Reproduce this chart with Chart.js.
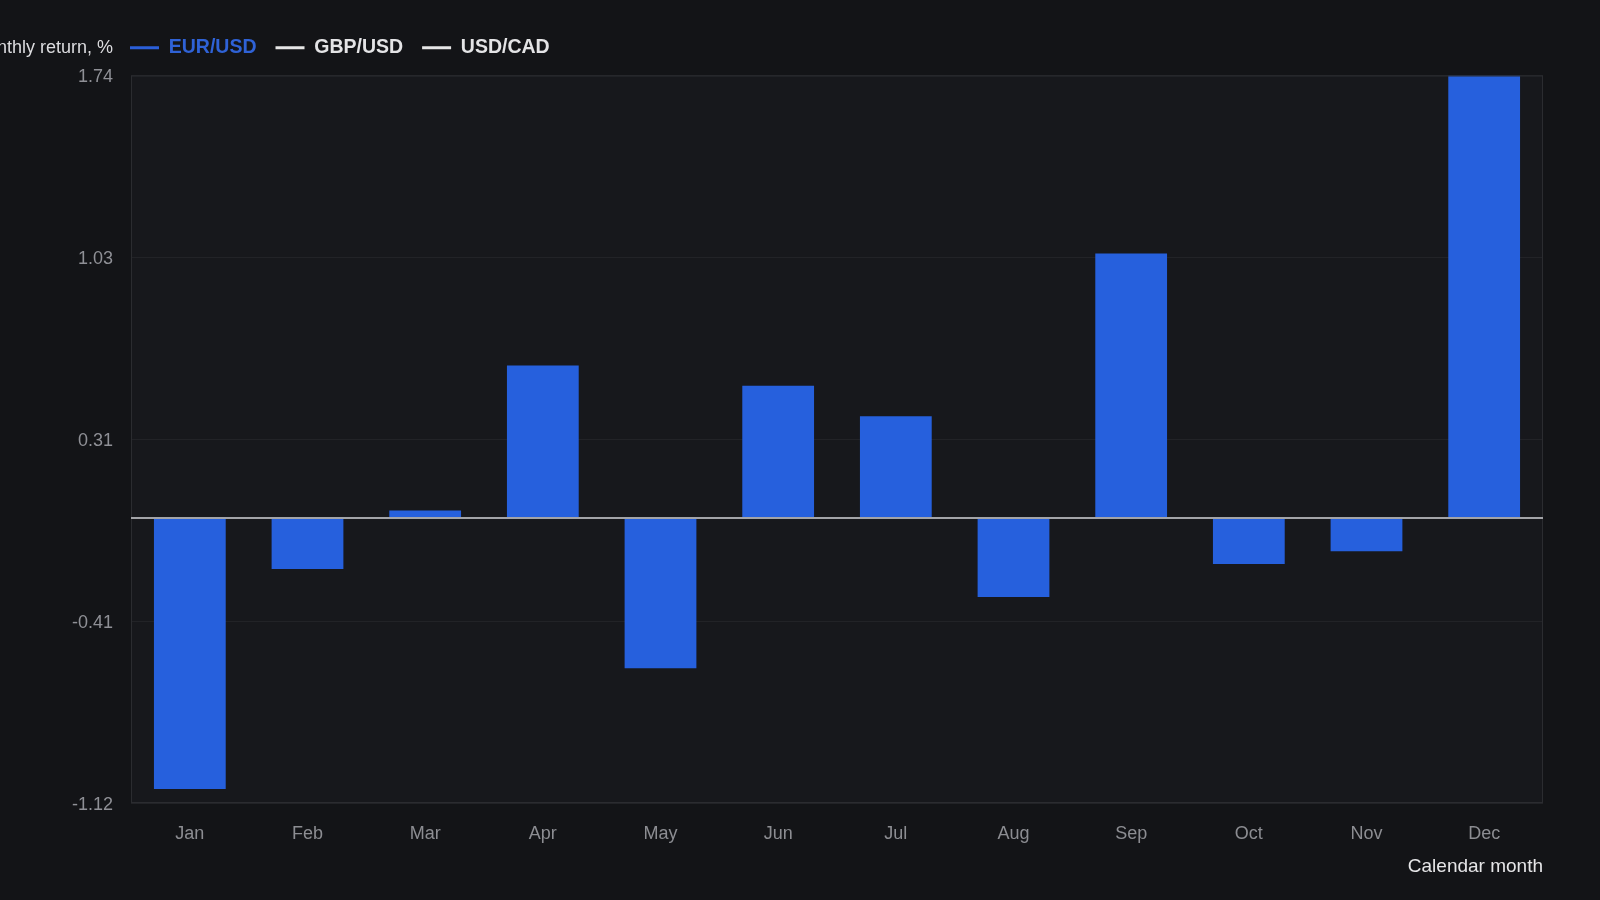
<!DOCTYPE html>
<html>
<head>
<meta charset="utf-8">
<script src="https://cdn.jsdelivr.net/npm/chart.js@4"></script>
<style>
  html, body { margin: 0; padding: 0; background: #131417; }
  #wrap { width: 1600px; height: 900px; }
</style>
</head>
<body>
<div id="wrap"><canvas id="returnsChart"></canvas></div>
<script>
// Average monthly return by calendar month
const months = ['Jan', 'Feb', 'Mar', 'Apr', 'May', 'Jun', 'Jul', 'Aug', 'Sep', 'Oct', 'Nov', 'Dec'];
const eurUsd = [-1.065, -0.20, 0.03, 0.60, -0.59, 0.52, 0.40, -0.31, 1.04, -0.18, -0.13, 1.74];
const gbpUsd = [];
const usdCad = [];
const yTickLabels = ['-1.12', '-0.41', '0.31', '1.03', '1.74'];
const yMin = -1.12, yMax = 1.74;

const FONT = '"Liberation Sans", Arial, sans-serif';

// plot background, border, zero line and the y title next to the legend
const plotDecor = {
    id: 'plotDecor',
    afterLayout(chart) {
        // legend sits flush with the plot's left edge, a bit above its default row
        chart.legend.left -= 20;
        chart.legend.top -= 8;
    },
    beforeDraw(chart) {
        const { ctx, chartArea: a } = chart;
        ctx.save();
        ctx.fillStyle = '#17181c';
        ctx.fillRect(a.left, a.top, a.right - a.left, a.bottom - a.top);
        ctx.restore();
    },
    afterDatasetsDraw(chart) {
        const { ctx, chartArea: a, scales } = chart;
        const y0 = scales.y.getPixelForValue(0);
        ctx.save();
        ctx.strokeStyle = '#2b2c30';
        ctx.lineWidth = 1;
        ctx.strokeRect(a.left + 0.5, a.top + 0.5, a.right - a.left - 1, a.bottom - a.top - 1);
        ctx.strokeStyle = '#a3a4a8';
        ctx.lineWidth = 2;
        ctx.beginPath();
        ctx.moveTo(a.left, y0);
        ctx.lineTo(a.right, y0);
        ctx.stroke();
        ctx.restore();
    },
    afterDraw(chart) {
        const { ctx, legend, chartArea: a } = chart;
        const cy = legend.top + 29;
        ctx.save();
        ctx.font = '18px ' + FONT;
        ctx.fillStyle = '#dcdcdf';
        ctx.textAlign = 'right';
        ctx.textBaseline = 'middle';
        ctx.fillText('Monthly return, %', a.left - 18, cy);
        ctx.restore();
    }
};

new Chart(document.getElementById('returnsChart'), {
    type: 'bar',
    data: {
        labels: months,
        datasets: [
            { label: 'EUR/USD', data: eurUsd, backgroundColor: '#2660dd', borderWidth: 0,
              barPercentage: 0.61, categoryPercentage: 1.0 },
            { label: 'GBP/USD', data: gbpUsd, backgroundColor: '#e6e6e6', hidden: true },
            { label: 'USD/CAD', data: usdCad, backgroundColor: '#e6e6e6', hidden: true }
        ]
    },
    options: {
        responsive: true,
        maintainAspectRatio: false,
        animation: false,
        layout: { padding: { top: 27, right: 57, bottom: 0, left: 0 } },
        plugins: {
            legend: {
                display: true,
                position: 'top',
                align: 'start',
                fullSize: false,
                labels: {
                    usePointStyle: true,
                    pointStyle: 'line',
                    pointStyleWidth: 29,
                    boxHeight: 20,
                    padding: 19,
                    font: { family: FONT, size: 19.5, weight: 'bold' },
                    generateLabels(chart) {
                        const colors = ['#2b5fd9', '#e6e6e6', '#e6e6e6'];
                        const textColors = ['#2f62d6', '#e4e4e6', '#e4e4e6'];
                        return chart.data.datasets.map((ds, i) => ({
                            text: ds.label,
                            datasetIndex: i,
                            hidden: false,
                            pointStyle: 'line',
                            strokeStyle: colors[i],
                            fillStyle: colors[i],
                            lineWidth: 3,
                            fontColor: textColors[i]
                        }));
                    }
                },
                onClick: () => {}
            },
            tooltip: { enabled: false }
        },
        scales: {
            x: {
                grid: { display: false, drawTicks: false },
                border: { display: false },
                ticks: {
                    color: '#8c8d92',
                    padding: 20,
                    font: { family: FONT, size: 18 }
                },
                title: {
                    display: true,
                    text: 'Calendar month',
                    align: 'end',
                    color: '#e6e6e8',
                    font: { family: FONT, size: 19 },
                    padding: { top: 4, bottom: 22 }
                },
                afterFit(scale) { scale.height = 97; }
            },
            y: {
                min: yMin,
                max: yMax,
                grid: { color: '#222327', lineWidth: 1, drawTicks: false },
                border: { display: false },
                afterBuildTicks(scale) {
                    const step = (yMax - yMin) / (yTickLabels.length - 1);
                    scale.ticks = yTickLabels.map((t, i) => ({ value: yMin + step * i }));
                },
                ticks: {
                    color: '#8f9096',
                    padding: 18,
                    labelOffset: 2,
                    font: { family: FONT, size: 18 },
                    callback: (v, i) => yTickLabels[i]
                },
                afterFit(scale) { scale.width = 131; }
            }
        }
    },
    plugins: [plotDecor]
});
</script>
</body>
</html>
